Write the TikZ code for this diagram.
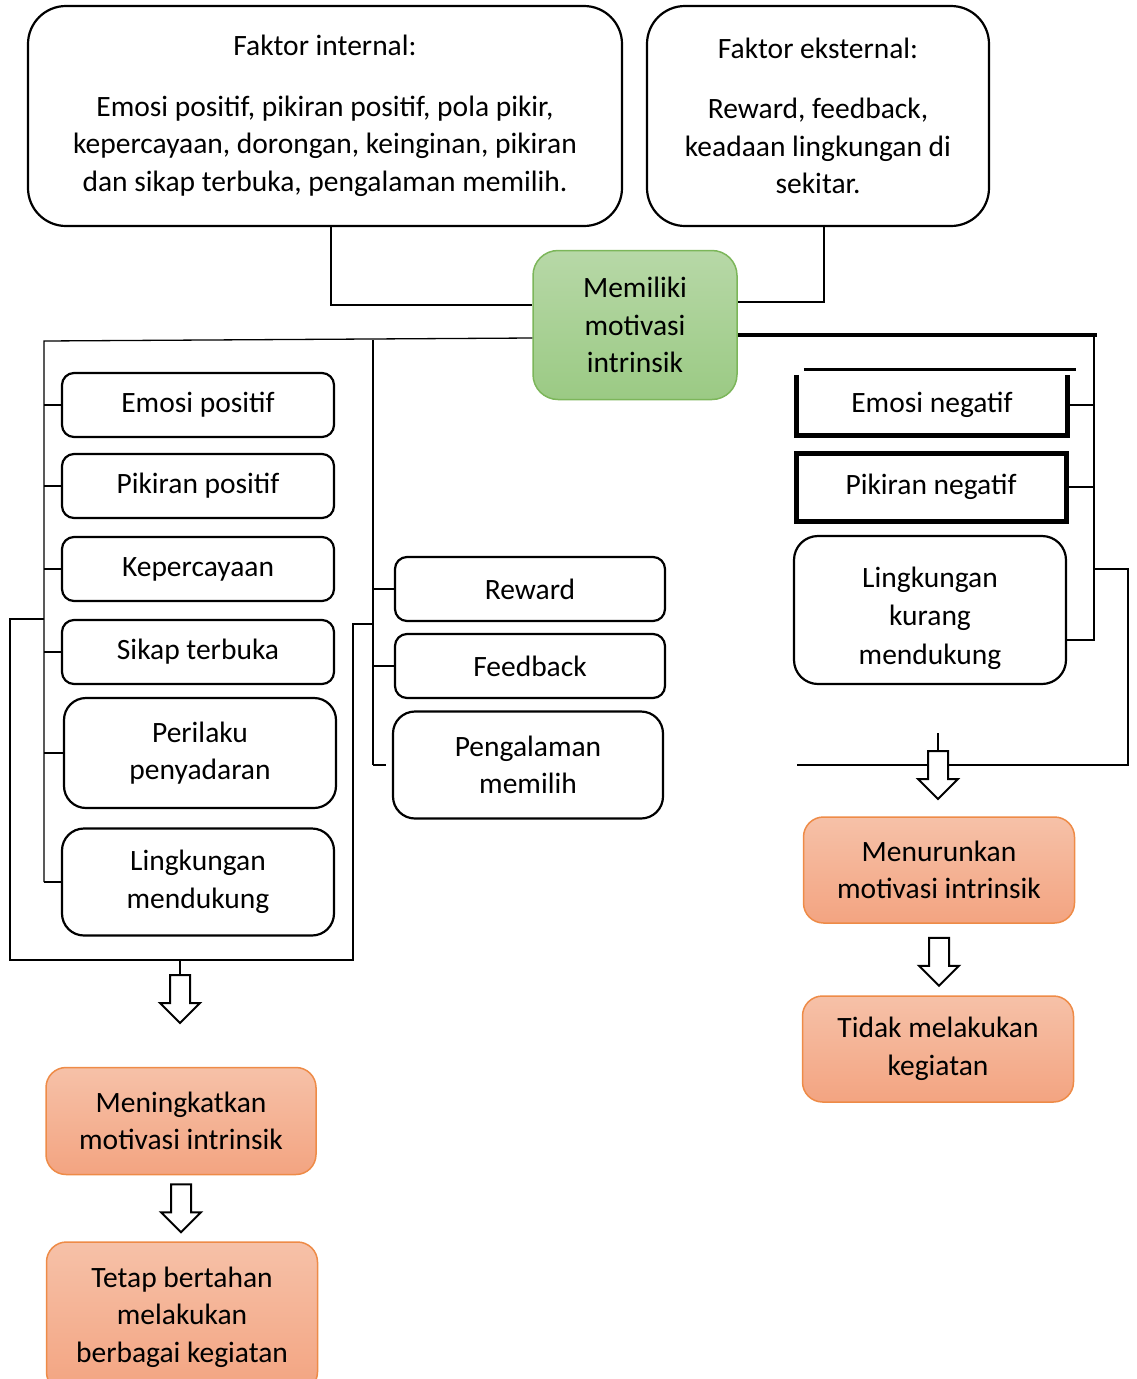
\documentclass[tikz,border=0pt]{standalone}
\usepackage{fontspec}
\setmainfont{Carlito}
\usetikzlibrary{calc}
\definecolor{greenline}{HTML}{7CB65A}
\definecolor{greentop}{HTML}{B7D8A7}
\definecolor{greenbot}{HTML}{9BCA84}
\definecolor{orangeline}{HTML}{EE8B47}
\definecolor{orangetop}{HTML}{F6C1A8}
\definecolor{orangebot}{HTML}{F3A481}
\tikzset{
    block/.style = {draw, rectangle, rounded corners=12, line width=2.2,
        minimum width=272, minimum height=64, align=center, inner sep=0},
    bigblock/.style = {block, rounded corners=22, minimum height=107},
    factor/.style = {block, rounded corners=38, minimum height=220},
    goal/.style = {block, rounded corners=20, draw=orangeline, line width=1.5,
        top color=orangetop, bottom color=orangebot,
        minimum width=271, minimum height=106},
    link/.style = {draw, line width=1.3},
    heavy/.style = {draw, line width=3.5},
    downarrow/.pic = {\draw[line width=2, fill=white] (-10,0) -- (10,0) -- (10,28)
        -- (20,28) -- (0,48) -- (-20,28) -- (-10,28) -- cycle;}
}

\begin{document}
\begin{tikzpicture}[x=1pt, y=-1pt, font=\fontsize{29.5}{37.5}\selectfont]
\useasboundingbox (0,0) rectangle (1137,1379);

% factors
\node[factor, minimum width=594] (intern) at (325,116) {Faktor internal:\\[23pt]
    Emosi positif, pikiran positif, pola pikir,\\
    kepercayaan, dorongan, keinginan, pikiran\\
    dan sikap terbuka, pengalaman memilih.};
\node[factor, minimum width=342] (ekstern) at (818,116) {Faktor eksternal:\\[23pt]
    Reward, feedback,\\ keadaan lingkungan di\\ sekitar.};
\node[block, rounded corners=25, draw=greenline, line width=1.5,
    top color=greentop, bottom color=greenbot,
    minimum width=204, minimum height=149] (motiv) at (635,325) {Memiliki\\ motivasi\\ intrinsik};

% positive side
\node[block] (emopos) at (198,405) {Emosi positif};
\node[block] (pikpos) at (198,486) {Pikiran positif};
\node[block] (percaya) at (198,569) {Kepercayaan};
\node[block] (sikap) at (198,652) {Sikap terbuka};
\node[bigblock, minimum height=110] (perilaku) at (200,753) {Perilaku\\ penyadaran};
\node[bigblock] (lingdukung) at (198,882) {Lingkungan\\ mendukung};

\node[block, minimum width=270] (reward) at (530,589) {Reward};
\node[block, minimum width=270] (feedback) at (530,666) {Feedback};
\node[bigblock, minimum width=270] (pengalaman) at (528,765) {Pengalaman\\ memilih};

% negative side
\node[minimum width=270, minimum height=60, inner sep=0] (emoneg) at (932,405) {Emosi negatif};
\node[draw, line width=5, minimum width=270, minimum height=68, inner sep=0] (pikneg) at (931,487) {Pikiran negatif};
\node[bigblock, rounded corners=24, minimum height=148,
    label={[align=center, yshift=-8]center:Lingkungan\\[1pt] kurang\\[1pt] mendukung}] (lingkurang) at (930,610) {};
\draw[line width=5] (emoneg.north west) -- (emoneg.south west) -- (emoneg.south east) -- (emoneg.north east);
\draw[line width=3] (emoneg.north west) ++(7,-5) -- ++(272,0);

% results
\node[goal, minimum width=270, minimum height=107] (naik) at (181,1121) {Meningkatkan\\ motivasi intrinsik};
\node[goal, minimum height=150] (tetap) at (182,1317) {Tetap bertahan\\ melakukan\\ berbagai kegiatan};
\node[goal] (turun) at (939,870) {Menurunkan\\ motivasi intrinsik};
\node[goal] (tidak) at (938,1049) {Tidak melakukan\\ kegiatan};

% top connectors
\draw[link] (intern.south) ++(6,0) |- ([yshift=20]motiv.west);
\draw[link] (ekstern.south) ++(6,0) |- ([yshift=23]motiv.east);

% left tree
\coordinate (ltop) at (44,341);
\coordinate (mtop) at (373,340);
\draw[link] ([yshift=-13]motiv.west) -- (ltop) -- (ltop |- lingdukung.west);
\foreach \n in {emopos,pikpos,percaya,sikap,perilaku,lingdukung}
    \draw[link] (ltop |- \n.west) -- (\n.west);
\draw[link] (mtop) -- (mtop |- pengalaman.west);
\foreach \n in {reward,feedback}
    \draw[link] (mtop |- \n.west) -- (\n.west);
\draw[line width=2.5] (mtop |- pengalaman.west) -- ++(13,0);

\coordinate (lout) at (10,619);
\coordinate (lin) at (353,624);
\coordinate (lbot) at (180,960);
\draw[link] (ltop |- lout) -- (lout) |- (lbot) -| (lin) -- (mtop |- lin);
\draw[link] (lbot) -- ++(0,15) pic {downarrow};
\pic at ([yshift=-9]naik.south) {downarrow};

% right tree
\coordinate (rtop) at (1094,335);
\coordinate (rbot) at (1094,640);
\draw[heavy] ([yshift=-10]motiv.east) -- ($(rtop)+(3,0)$);
\draw[link] (rtop) -- (rbot) -- (rbot -| lingkurang.east);
\foreach \n in {emoneg,pikneg}
    \draw[link] (rtop |- \n.east) -- (\n.east);

\coordinate (rout) at (1128,569);
\coordinate (rend) at (797,765);
\coordinate (rstub) at (938,733);
\draw[heavy, line width=2.5] (rtop |- rout) -- (rout) |- (rend);
\draw[link] (rstub) -- ++(0,18) pic {downarrow};
\pic at ([yshift=-14]turun.south) {downarrow};
\end{tikzpicture}
\end{document}
